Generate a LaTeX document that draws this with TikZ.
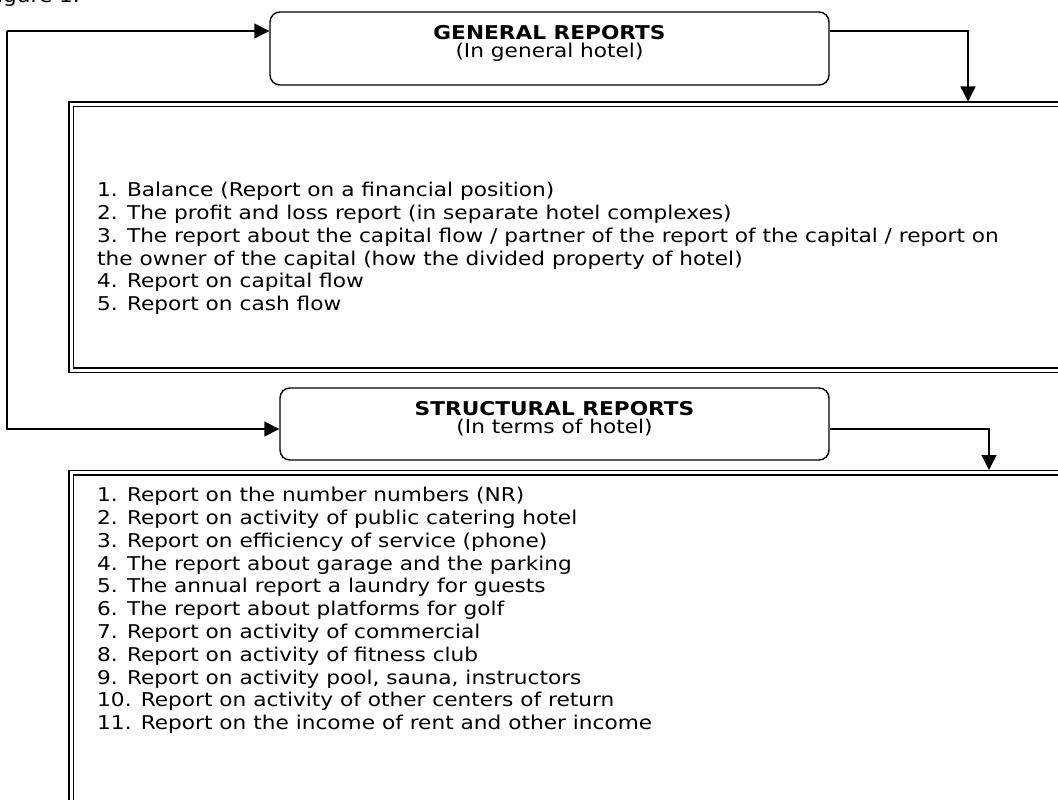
\documentclass[tikz,border=0pt]{standalone}
\usepackage{fontspec}
\setmainfont[FakeStretch = 1.14]{DejaVu Sans}
\usetikzlibrary{arrows.meta,positioning}
\tikzset{
	hdrbox/.style = {draw, rounded corners = 10pt, line width = 1.4pt, align = center, inner sep = 0pt, font = \fontsize{19}{18}\selectfont},
	repbox/.style = {draw, double, double distance = 3.4pt, line width = 1.5pt, inner sep = 0pt, anchor = north west},
	arr/.style = {line width = 1.4pt, -{Triangle[length = 15pt, width = 15pt]}},
	listtext/.style = {align = left, anchor = north west, inner sep = 0pt, font = \fontsize{19}{22.8}\selectfont}
}
\begin{document}
\begin{tikzpicture}[x = 1pt, y = -1pt]
	\useasboundingbox (0, 0) rectangle (1058, 800);
	% caption, cut by the page edge
	\node[anchor = base west, inner sep = 0pt, font = \fontsize{19}{22}\selectfont] (cap) at (-14, 2.5) {Figure 1.};
	% the two heading boxes
	\node[hdrbox, minimum width = 559pt, minimum height = 73pt] (gen) at (549.5, 48.5) {\textbf{GENERAL REPORTS}\\(In general hotel)\\[-4pt]};
	\node[hdrbox, minimum width = 549pt, minimum height = 72pt] (str) at (554.5, 424) {\textbf{STRUCTURAL REPORTS}\\(In terms of hotel)\\[-4pt]};
	% the report boxes, running off the right edge
	\node[repbox, minimum width = 1010pt, minimum height = 266pt] (rep1) at (70.5, 103.5) {};
	\node[repbox, minimum width = 1010pt, minimum height = 330pt] (rep2) at (70.5, 472) {};
	% the lists
	\node[listtext] (list1) at (97, 182) {1. Balance (Report on a financial position)\\
		2. The profit and loss report (in separate hotel complexes)\\
		3. The report about the capital flow / partner of the report of the capital / report on\\
		the owner of the capital (how the divided property of hotel)\\
		4. Report on capital flow\\
		5. Report on cash flow};
	\node[listtext] (list2) at (97, 487) {1. Report on the number numbers (NR)\\
		2. Report on activity of public catering hotel\\
		3. Report on efficiency of service (phone)\\
		4. The report about garage and the parking\\
		5. The annual report a laundry for guests\\
		6. The report about platforms for golf\\
		7. Report on activity of commercial\\
		8. Report on activity of fitness club\\
		9. Report on activity pool, sauna, instructors\\
		10. Report on activity of other centers of return\\
		11. Report on the income of rent and other income};
	% connectors
	\coordinate (gl) at (7, 31);
	\coordinate (sl) at (7, 429);
	\coordinate (gr) at (968, 31);
	\coordinate (sr) at (989, 429);
	\draw[arr] (gl) -- (gl -| gen.west);
	\draw[arr] (gl) -- (sl) -- (sl -| str.west);
	\draw[arr, shorten > = 2pt] (gr -| gen.east) -- (gr) -- (gr |- rep1.north);
	\draw[arr, shorten > = 2pt] (sr -| str.east) -- (sr) -- (sr |- rep2.north);
\end{tikzpicture}
\end{document}
